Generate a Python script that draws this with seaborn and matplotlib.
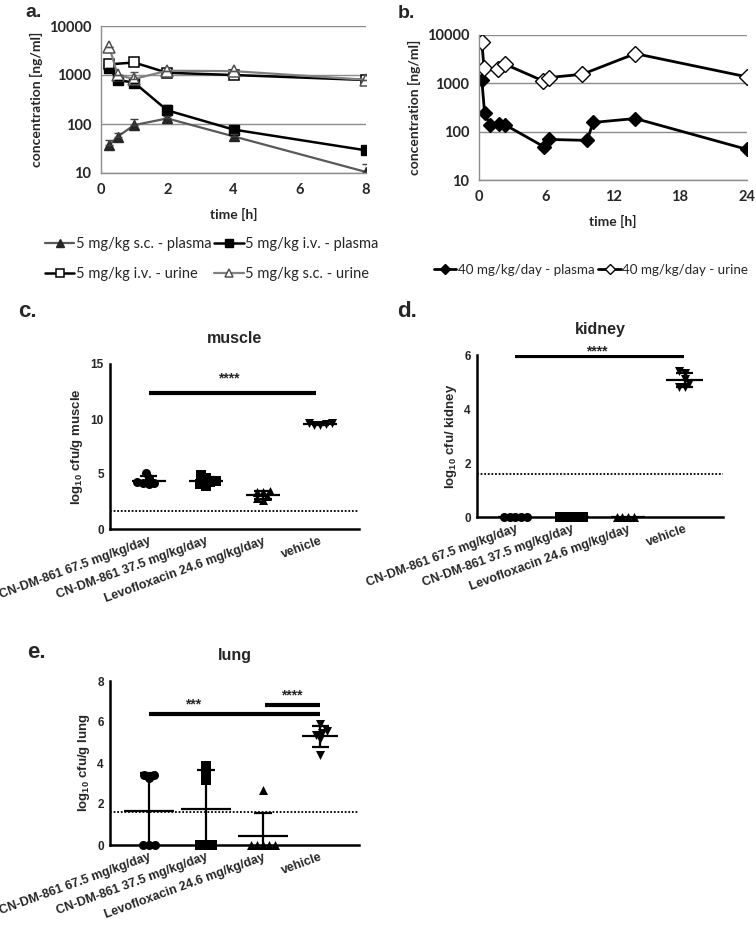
import numpy as np
import pandas as pd
import matplotlib
matplotlib.use("Agg")
import matplotlib.pyplot as plt
from matplotlib.collections import PathCollection
import seaborn as sns

sns.set_style("white")
plt.rcParams["font.family"] = ["Liberation Sans", "DejaVu Sans"]
plt.rcParams["font.weight"] = "bold"
plt.rcParams["axes.labelweight"] = "bold"
plt.rcParams["axes.titleweight"] = "bold"
plt.rcParams["mathtext.fontset"] = "custom"
plt.rcParams["mathtext.rm"] = "Liberation Sans:bold"
plt.rcParams["mathtext.bf"] = "Liberation Sans:bold"

# ---- panel a: 5 mg/kg single dose ----
t_a = [0.25, 0.5, 1, 2, 4, 8]
sc_plasma = [37, 55, 95, 130, 56, 10.5]
sc_plasma_err = [11, 9, 30, 15, 6, 5]
iv_plasma = [1400, 790, 700, 190, 77, 29]
iv_plasma_err = [0, 0, 0, 60, 8, 3]
t_iv_urine = [0.25, 1, 2, 4, 8]
iv_urine = [1650, 1800, 1110, 1000, 790]
sc_urine = [3780, 1000, 830, 1220, 1200, 800]
sc_urine_err = [0, 0, 340, 0, 0, 0]
labels_a = ["5 mg/kg s.c. - plasma", "5 mg/kg i.v. - plasma",
            "5 mg/kg i.v. - urine", "5 mg/kg s.c. - urine"]

# ---- panel b: 40 mg/kg/day ----
t_b_plasma = [0.25, 0.5, 1, 1.75, 2.3, 5.8, 6.3, 9.7, 10.2, 14, 24]
b_plasma = [1200, 245, 136, 145, 140, 49, 69, 66, 155, 187, 43]
t_b_urine = [0.25, 0.45, 1.7, 2.3, 5.75, 6.3, 9.25, 14, 24]
b_urine = [7300, 2080, 2000, 2500, 1120, 1320, 1540, 4120, 1360]
labels_b = ["40 mg/kg/day - plasma", "40 mg/kg/day - urine"]

conc_ticks = [10, 100, 1000, 10000]

# ---- panels c-e: bacterial burden ----
groups = ["CN-DM-861 67.5 mg/kg/day", "CN-DM-861 37.5 mg/kg/day",
          "Levofloxacin 24.6 mg/kg/day", "vehicle"]
group_markers = ["o", "s", "^", "v"]

muscle = [[4.65, 5.1, 4.2, 4.05, 4.2, 4.25],
          [4.65, 4.95, 4.05, 3.9, 4.35, 4.25],
          [3.4, 3.35, 3.45, 3.0, 2.8, 2.65],
          [9.6, 9.5, 9.45, 9.55, 9.6]]
kidney = [[0, 0, 0, 0, 0],
          [0, 0, 0, 0, 0],
          [0, 0, 0, 0],
          [5.35, 5.4, 5.1, 4.95, 4.8, 4.8]]
lung = [[3.4, 3.4, 3.25, 0, 0, 0],
        [3.85, 3.5, 3.15, 0, 0, 0],
        [2.7, 0, 0, 0, 0, 0],
        [5.9, 5.58, 5.37, 5.16, 5.45, 4.39]]
detection_limit = 1.6

# significance bars: (from group, to group, bar height, star x, star baseline, stars)
muscle_sig = [(0, 2.92, 12.35, 1.4, 13.3, "****")]
kidney_sig = [(0, 2.98, 5.95, 1.45, 6.0, "****")]
lung_sig = [(0, 3.0, 6.39, 0.77, 6.65, "***"),
            (2.03, 3.0, 6.83, 2.5, 7.09, "****")]

GRID = "#8c8c8c"
PK_FONT = "Lato"


def style_pk(ax, xticks, xmax, xlabel):
    ax.set_yscale("log")
    ax.set_ylim(10, 10000)
    ax.set_yticks(conc_ticks)
    ax.set_yticklabels([str(v) for v in conc_ticks])
    ax.minorticks_off()
    ax.set_xlim(0, xmax)
    ax.set_xticks(xticks)
    ax.grid(axis="y", color=GRID, lw=1)
    ax.grid(axis="x", visible=False)
    for s in ["top", "right"]:
        ax.spines[s].set_visible(False)
    for s in ["left", "bottom"]:
        ax.spines[s].set_color(GRID)
        ax.spines[s].set_linewidth(1)
    ax.tick_params(direction="out", length=4, color=GRID, width=1, pad=3,
                   labelsize=10.5, labelfontfamily=PK_FONT)
    ax.set_xlabel(xlabel, fontfamily=PK_FONT, fontsize=10, labelpad=8)
    ax.set_ylabel("concentration [ng/ml]", fontfamily=PK_FONT, fontsize=10, labelpad=4)
    ax.set_axisbelow(True)


def dot_panel(ax, values, title, ylabel, ylim, yticks, sig, mean_hw):
    df = pd.DataFrame({"group": np.repeat(groups, [len(v) for v in values]),
                       "value": np.concatenate(values)})
    for g, m in zip(groups, group_markers):
        sns.swarmplot(data=df[df["group"] == g], x="group", y="value", order=groups,
                      marker=m, color="black", size=4, ax=ax, warn_thresh=1)
    stats = df.groupby("group", sort=False)["value"].agg(["mean", "std"])
    for i, g in enumerate(groups):
        mu, sd = stats.loc[g, "mean"], stats.loc[g, "std"]
        ax.hlines(mu, i - mean_hw[i], i + mean_hw[i], color="black", lw=1.6)
        if sd > 0:
            ax.vlines(i, mu - sd, mu + sd, color="black", lw=1.6)
            ax.hlines([mu - sd, mu + sd], i - 0.15, i + 0.15, color="black", lw=1.6)
    ax.axhline(detection_limit, color="black", ls=(0, (1, 1)), lw=1.3)
    for x0, x1, y, tx, ty, txt in sig:
        ax.plot([x0, x1], [y, y], color="black", lw=3, solid_capstyle="butt")
        ax.text(tx, ty, txt, ha="center", va="baseline", fontsize=10)
    ax.set_xlim(-0.68, 3.68)
    ax.set_ylim(*ylim)
    ax.set_yticks(yticks)
    for s in ["top", "right"]:
        ax.spines[s].set_visible(False)
    for s in ["left", "bottom"]:
        ax.spines[s].set_linewidth(1.8)
        ax.spines[s].set_color("black")
    ax.tick_params(direction="out", length=3, width=1.5, color="black", pad=1.5)
    ax.tick_params(axis="y", labelsize=8.5)
    ax.set_xticks(range(len(groups)))
    ax.set_xticklabels(groups, rotation=20, ha="right", va="top", rotation_mode="anchor",
                       fontsize=9)
    ax.set_xlabel("")
    ax.set_ylabel(ylabel, fontsize=9.5, labelpad=4)
    ax.set_title(title, fontsize=11.5, pad=15)


fig = plt.figure(figsize=(7.56, 9.36), dpi=100)
W, H = 756, 936


def box(x0, x1, top, bottom):
    return [x0 / W, 1 - bottom / H, (x1 - x0) / W, (bottom - top) / H]


# ---- a ----
ax_a = fig.add_axes(box(101, 366, 26, 173))
sns.lineplot(x=t_a, y=sc_plasma, ax=ax_a, color="#595959", lw=1.6, marker="^", markersize=7,
             markerfacecolor="#262626", markeredgecolor="#262626", mew=1, label=labels_a[0])
sns.lineplot(x=t_a, y=iv_plasma, ax=ax_a, color="black", lw=1.8, marker="s", markersize=7,
             markerfacecolor="black", markeredgecolor="black", mew=1, label=labels_a[1])
sns.lineplot(x=t_iv_urine, y=iv_urine, ax=ax_a, color="black", lw=1.8, marker="s", markersize=7.5,
             markerfacecolor="white", markeredgecolor="black", mew=1.1, label=labels_a[2])
sns.lineplot(x=t_a, y=sc_urine, ax=ax_a, color="#808080", lw=1.6, marker="^", markersize=8,
             markerfacecolor="white", markeredgecolor="#505050", mew=1.1, label=labels_a[3])
handles_a = list(ax_a.get_lines())
for yv, err, col in [(sc_plasma, sc_plasma_err, "#404040"), (iv_plasma, iv_plasma_err, "black"),
                     (sc_urine, sc_urine_err, "#505050")]:
    ax_a.errorbar(t_a, yv, yerr=[np.zeros(len(err)), err], fmt="none", ecolor=col,
                  elinewidth=1, capsize=3, capthick=1)
style_pk(ax_a, [0, 2, 4, 6, 8], 8, "time [h]")
ax_a.legend([handles_a[i] for i in [0, 2, 1, 3]], [labels_a[i] for i in [0, 2, 1, 3]],
            ncol=2, frameon=False, loc="upper left",
            bbox_to_anchor=(38 / W, 1 - 230 / H), bbox_transform=fig.transFigure,
            borderpad=0, handlelength=2.0, handletextpad=0.1, columnspacing=0.2,
            labelspacing=1.1, markerscale=0.75,
            prop={"family": PK_FONT, "size": 10.5, "weight": "normal"})

# ---- b ----
ax_b = fig.add_axes(box(479, 747, 35, 180))
sns.lineplot(x=t_b_plasma, y=b_plasma, ax=ax_b, color="black", lw=2, marker="D", markersize=7.5,
             markerfacecolor="black", markeredgecolor="black", mew=1, label=labels_b[0])
sns.lineplot(x=t_b_urine, y=b_urine, ax=ax_b, color="black", lw=2, marker="D", markersize=8,
             markerfacecolor="white", markeredgecolor="black", mew=1, label=labels_b[1])
style_pk(ax_b, [0, 6, 12, 18, 24], 24, "time [h]")
ax_b.legend(frameon=False, ncol=2, loc="upper left",
            bbox_to_anchor=(427 / W, 1 - 257 / H), bbox_transform=fig.transFigure,
            borderpad=0, handlelength=1.7, handletextpad=0.1, columnspacing=0.3,
            markerscale=0.65, prop={"family": PK_FONT, "size": 9.6, "weight": "normal"})

# ---- c, d, e ----
ax_c = fig.add_axes(box(110, 359, 364, 529))
dot_panel(ax_c, muscle, "muscle", r"log$_{10}$ cfu/g muscle", (0, 15), [0, 5, 10, 15],
          muscle_sig, [0.3, 0.3, 0.3, 0.3])
ax_d = fig.add_axes(box(477, 723, 355, 517))
dot_panel(ax_d, kidney, "kidney", r"log$_{10}$ cfu/ kidney", (0, 6), [0, 2, 4, 6],
          kidney_sig, [0.3, 0.3, 0.3, 0.33])
ax_e = fig.add_axes(box(110, 359, 681, 845))
dot_panel(ax_e, lung, "lung", r"log$_{10}$ cfu/g lung", (0, 8), [0, 2, 4, 6, 8],
          lung_sig, [0.44, 0.44, 0.44, 0.31])

# panel letters
for x, y, s, fs in [(25, 17, "a.", 14), (398, 18, "b.", 14), (18, 317, "c.", 16),
                    (397, 317, "d.", 16), (27, 658, "e.", 16)]:
    fig.text(x / W, 1 - y / H, s, fontsize=fs, va="baseline")

# lay out the swarms with small markers, then freeze them and draw the points larger
# so that neighbours overlap a little, like the original dot plots
fig.canvas.draw()
for ax in (ax_c, ax_d, ax_e):
    for coll in ax.collections:
        if isinstance(coll, PathCollection):
            coll.__dict__.pop("draw", None)
            coll.set_sizes([6.5 ** 2])
            coll.set_clip_on(False)

fig.savefig("out.png", dpi=100)
